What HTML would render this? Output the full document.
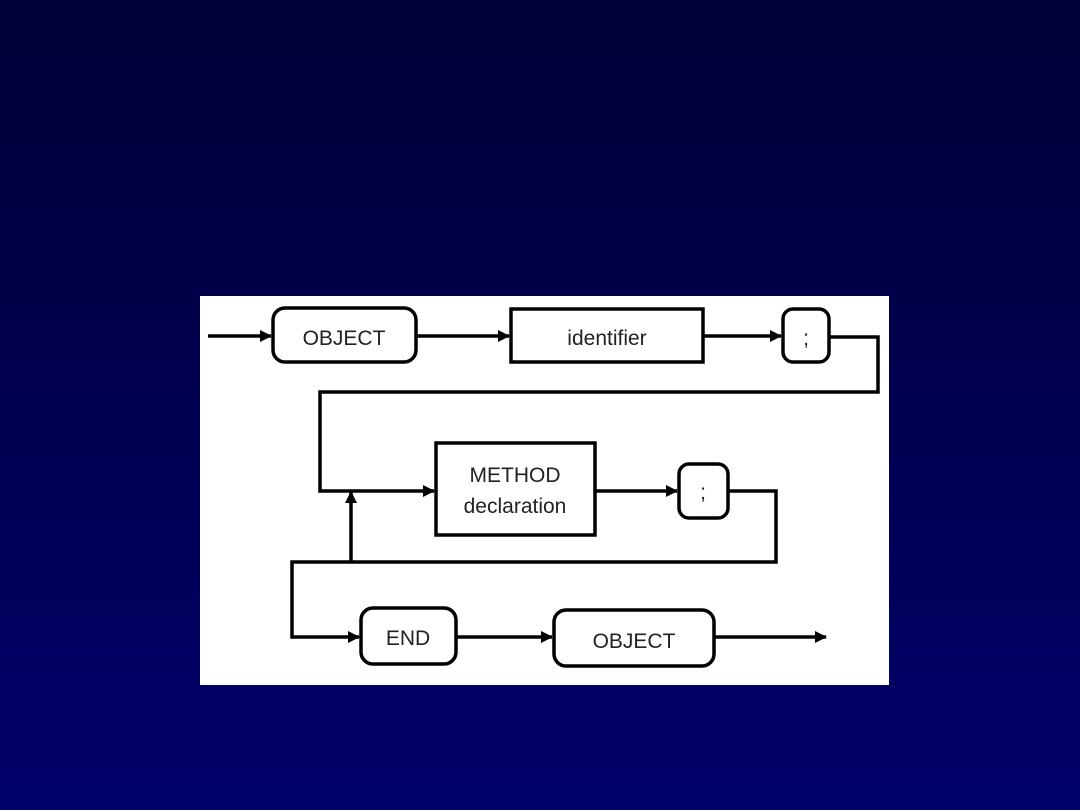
<!DOCTYPE html>
<html><head><style>
html,body{margin:0;padding:0;width:1080px;height:810px;overflow:hidden;background:linear-gradient(#000036,#00006a);}
svg{position:absolute;left:0;top:0}
text{font-family:"Liberation Sans",sans-serif;font-size:21px;fill:#222}
</style></head><body>
<svg width="1080" height="810">
<defs><marker id="a" markerWidth="12" markerHeight="12" refX="11" refY="6" orient="auto" markerUnits="userSpaceOnUse"><path d="M0,0 L12,6 L0,12 z" fill="#000"/></marker></defs>
<rect x="200" y="296" width="689" height="389" fill="#fff"/>
<g stroke="#000" stroke-width="3.5" fill="none">
<line x1="208" y1="336" x2="271" y2="336" marker-end="url(#a)"/>
<rect x="273" y="308" width="143" height="54" rx="12"/>
<line x1="416" y1="336" x2="509" y2="336" marker-end="url(#a)"/>
<rect x="511" y="309" width="192" height="53"/>
<line x1="703" y1="336" x2="781" y2="336" marker-end="url(#a)"/>
<rect x="783" y="309" width="46" height="53" rx="10"/>
<polyline points="829,337 878,337 878,392 320,392 320,491 434,491" marker-end="url(#a)"/>
<rect x="436" y="443" width="159" height="92"/>
<line x1="595" y1="491" x2="677" y2="491" marker-end="url(#a)"/>
<rect x="679" y="464" width="49" height="54" rx="10"/>
<polyline points="728,491 776,491 776,562 292,562 292,637 359,637" marker-end="url(#a)"/>
<line x1="351" y1="562" x2="351" y2="492" marker-end="url(#a)"/>
<rect x="361" y="608" width="95" height="56" rx="12"/>
<line x1="456" y1="637" x2="552" y2="637" marker-end="url(#a)"/>
<rect x="554" y="610" width="160" height="56" rx="12"/>
<line x1="714" y1="637" x2="826" y2="637" marker-end="url(#a)"/>
</g>
<text x="344" y="345" text-anchor="middle">OBJECT</text>
<text x="607" y="345" text-anchor="middle">identifier</text>
<text x="806" y="345" text-anchor="middle">;</text>
<text x="515" y="482" text-anchor="middle">METHOD</text>
<text x="515" y="513" text-anchor="middle">declaration</text>
<text x="703" y="499" text-anchor="middle">;</text>
<text x="408" y="645" text-anchor="middle">END</text>
<text x="634" y="648" text-anchor="middle">OBJECT</text>
</svg>
</body></html>
